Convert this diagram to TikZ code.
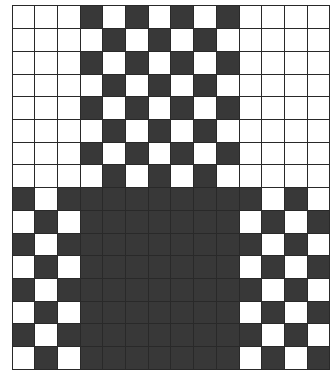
\documentclass[tikz,border=0pt]{standalone}
\definecolor{cellink}{gray}{0.22}
\definecolor{gridink}{gray}{0.16}
\tikzset{
  blackcell/.style={fill=cellink},
  gridline/.style={draw=gridink,line width=1.0pt}
}
\begin{document}
\begin{tikzpicture}[x=1pt,y=-1pt]
\useasboundingbox (0,0) rectangle (329,371);
\fill[white] (0,0) rectangle (329,371);
\def\cs{22.7}
\def\xo{12}
\def\yo{6}
\foreach \r in {0,...,15}{
  \foreach \c in {0,...,13}{
    \pgfmathtruncatemacro\midcol{(\c>2)&&(\c<10)}
    \pgfmathtruncatemacro\odd{mod(\r+\c,2)}
    \pgfmathtruncatemacro\blk{\r<8 ? \midcol*\odd : max(\midcol,1-\odd)}
    \ifnum\blk=1
      \fill[blackcell] ({\xo+\c*\cs},{\yo+\r*\cs}) rectangle ++(\cs,\cs);
    \fi
  }
}
\foreach \i in {0,...,14}{
  \draw[gridline] ({\xo+\i*\cs},\yo) -- ++(0,{16*\cs});
}
\foreach \j in {0,...,16}{
  \draw[gridline] (\xo,{\yo+\j*\cs}) -- ++({14*\cs},0);
}
\end{tikzpicture}
\end{document}
